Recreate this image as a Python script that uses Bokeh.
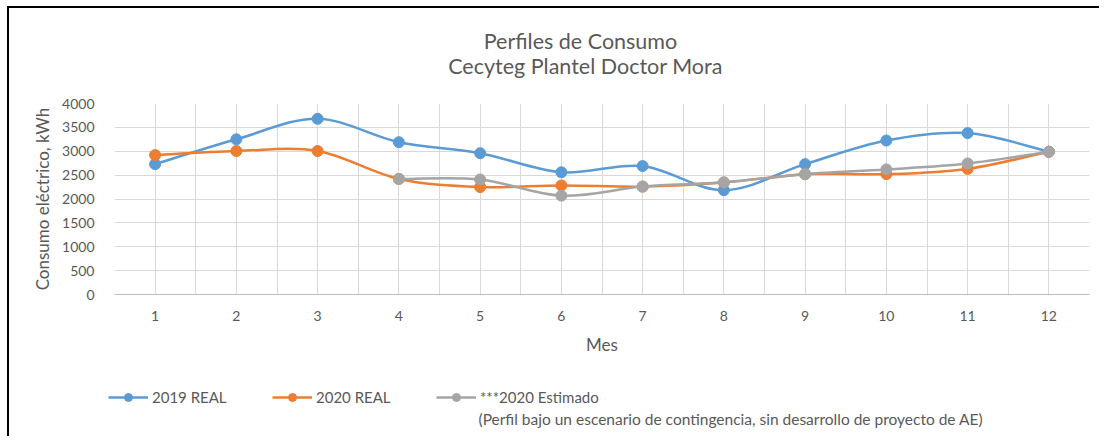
from bokeh.plotting import figure
from bokeh.layouts import column
from bokeh.models import Range1d, FixedTicker, Legend, LegendItem, Label
from bokeh.embed import file_html
from bokeh.resources import INLINE

# ---- data ----
months = [1, 2, 3, 4, 5, 6, 7, 8, 9, 10, 11, 12]
month_labels = ["1", "2", "3", "4", "5", "6", "7", "8", "9", "10", "11", "12"]
real_2019 = [2730, 3250, 3680, 3190, 2960, 2560, 2690, 2185, 2730, 3225, 3380, 2990]
real_2020 = [2920, 3005, 3005, 2420, 2250, 2285, 2260, 2345, 2520, 2520, 2630, 2990]
est_months = [4, 5, 6, 7, 8, 9, 10, 11, 12]
est_2020 = [2420, 2410, 2070, 2260, 2350, 2520, 2620, 2745, 2990]
y_ticks = [0, 500, 1000, 1500, 2000, 2500, 3000, 3500, 4000]
series_names = ["2019 REAL", "2020 REAL", "***2020 Estimado"]
note_text = "(Perfil bajo un escenario  de contingencia, sin desarrollo de proyecto de AE)"
title_lines = ["Perfiles de Consumo", "Cecyteg Plantel Doctor Mora"]

FONT = "Lato"
TXT = "#595959"
GRID = "#d9d9d9"
colors = ["#5B9BD5", "#ED7D31", "#A5A5A5"]
W = 1090
LEFT = 105


def blank_fig(h):
    f = figure(width=W, height=h, output_backend="svg", toolbar_location=None,
               x_axis_type=None, y_axis_type=None, min_border=0,
               x_range=Range1d(0, 1), y_range=Range1d(0, 1))
    f.outline_line_color = None
    f.background_fill_color = "white"
    f.border_fill_color = "white"
    fl = LEFT
    if "frame_align" in f.properties():
        f.frame_align = False
        fl = 0
    return f, fl


# ---- title strip ----
f_top, fl_top = blank_fig(85)
for txt, xx, yy in zip(title_lines, [571, 576], [53, 28]):
    f_top.add_layout(Label(x=xx - fl_top, y=yy, x_units="screen", y_units="screen", text=txt,
                           text_font=FONT, text_font_size="21.5px", text_color=TXT,
                           text_align="center", text_baseline="middle"))

# ---- chart ----
p = figure(width=W, height=270, output_backend="svg", toolbar_location=None,
           x_range=Range1d(0.5, 12.5), y_range=Range1d(0, 4000),
           min_border_left=LEFT, min_border_right=10, min_border_top=10, min_border_bottom=69)
p.outline_line_color = None
p.background_fill_color = "white"
p.border_fill_color = "white"

p.xaxis.ticker = FixedTicker(ticks=months)
p.xaxis.major_label_overrides = {m: l for m, l in zip(months, month_labels)}
p.yaxis.ticker = FixedTicker(ticks=y_ticks)
for ax in (p.xaxis[0], p.yaxis[0]):
    ax.major_tick_line_color = None
    ax.minor_tick_line_color = None
    ax.major_label_text_font = FONT
    ax.major_label_text_font_size = "14px"
    ax.major_label_text_color = TXT
    ax.axis_label_text_font = FONT
    ax.axis_label_text_font_size = "17px"
    ax.axis_label_text_color = TXT
    ax.axis_label_text_font_style = "normal"
p.xaxis.axis_line_color = "#bfbfbf"
p.yaxis.axis_line_color = None
p.xaxis.major_label_standoff = 10
p.yaxis.major_label_standoff = 14
p.xaxis.axis_label = "Mes"
p.yaxis.axis_label = "Consumo eléctrico, kWh"
p.xaxis.axis_label_standoff = 10
p.yaxis.axis_label_standoff = 6

half_steps = sorted(set([m - 0.5 for m in months] + months + [months[-1] + 0.5]))
p.xgrid.ticker = FixedTicker(ticks=half_steps)
p.xgrid.grid_line_color = GRID
p.ygrid.grid_line_color = GRID


def smooth(xs, ys):
    n = len(xs)
    out = dict(x0=[], y0=[], x1=[], y1=[], cx0=[], cy0=[], cx1=[], cy1=[])
    for i in range(n - 1):
        a = i - 1 if i > 0 else i
        d = i + 2 if i + 2 < n else i + 1
        out["x0"].append(xs[i]); out["y0"].append(ys[i])
        out["x1"].append(xs[i + 1]); out["y1"].append(ys[i + 1])
        out["cx0"].append(xs[i] + (xs[i + 1] - xs[a]) / 6)
        out["cy0"].append(ys[i] + (ys[i + 1] - ys[a]) / 6)
        out["cx1"].append(xs[i + 1] - (xs[d] - xs[i]) / 6)
        out["cy1"].append(ys[i + 1] - (ys[d] - ys[i]) / 6)
    return out


series_x = [months, months, est_months]
series_y = [real_2019, real_2020, est_2020]
for xs, ys, c in zip(series_x, series_y, colors):
    p.bezier(line_color=c, line_width=2.5, **smooth(xs, ys))
    p.scatter(xs, ys, size=11, marker="circle", fill_color=c, line_color=c)

# ---- legend strip (proxy renderers lie outside this strip's ranges) ----
f_bot, fl_bot = blank_fig(73)
items = []
for name, xs, ys, c in zip(series_names, series_x, series_y, colors):
    ln = f_bot.line(x=xs, y=ys, line_color=c, line_width=2.5)
    mk = f_bot.scatter(x=xs, y=ys, size=8, marker="circle", fill_color=c, line_color=c)
    items.append(LegendItem(label=name, renderers=[ln, mk]))
legend = Legend(items=items, orientation="horizontal", location=(99 - fl_bot, 29),
                glyph_width=40, glyph_height=20, label_height=20, label_standoff=4,
                label_width=80, spacing=40, padding=0, margin=0, border_line_color=None,
                background_fill_alpha=0, label_text_font=FONT,
                label_text_font_size="15px", label_text_color=TXT)
f_bot.add_layout(legend, "center")
f_bot.add_layout(Label(x=469 - fl_bot, y=18, x_units="screen", y_units="screen", text=note_text,
                       text_font=FONT, text_font_size="15.5px", text_color=TXT,
                       text_align="left", text_baseline="middle"))

lay = column(f_top, p, f_bot, spacing=0)
lay.styles = {"margin-left": "7px", "margin-top": "6px",
              "border-left": "2px solid black", "border-top": "2px solid black"}

open("out.html", "w").write(file_html(lay, INLINE))
